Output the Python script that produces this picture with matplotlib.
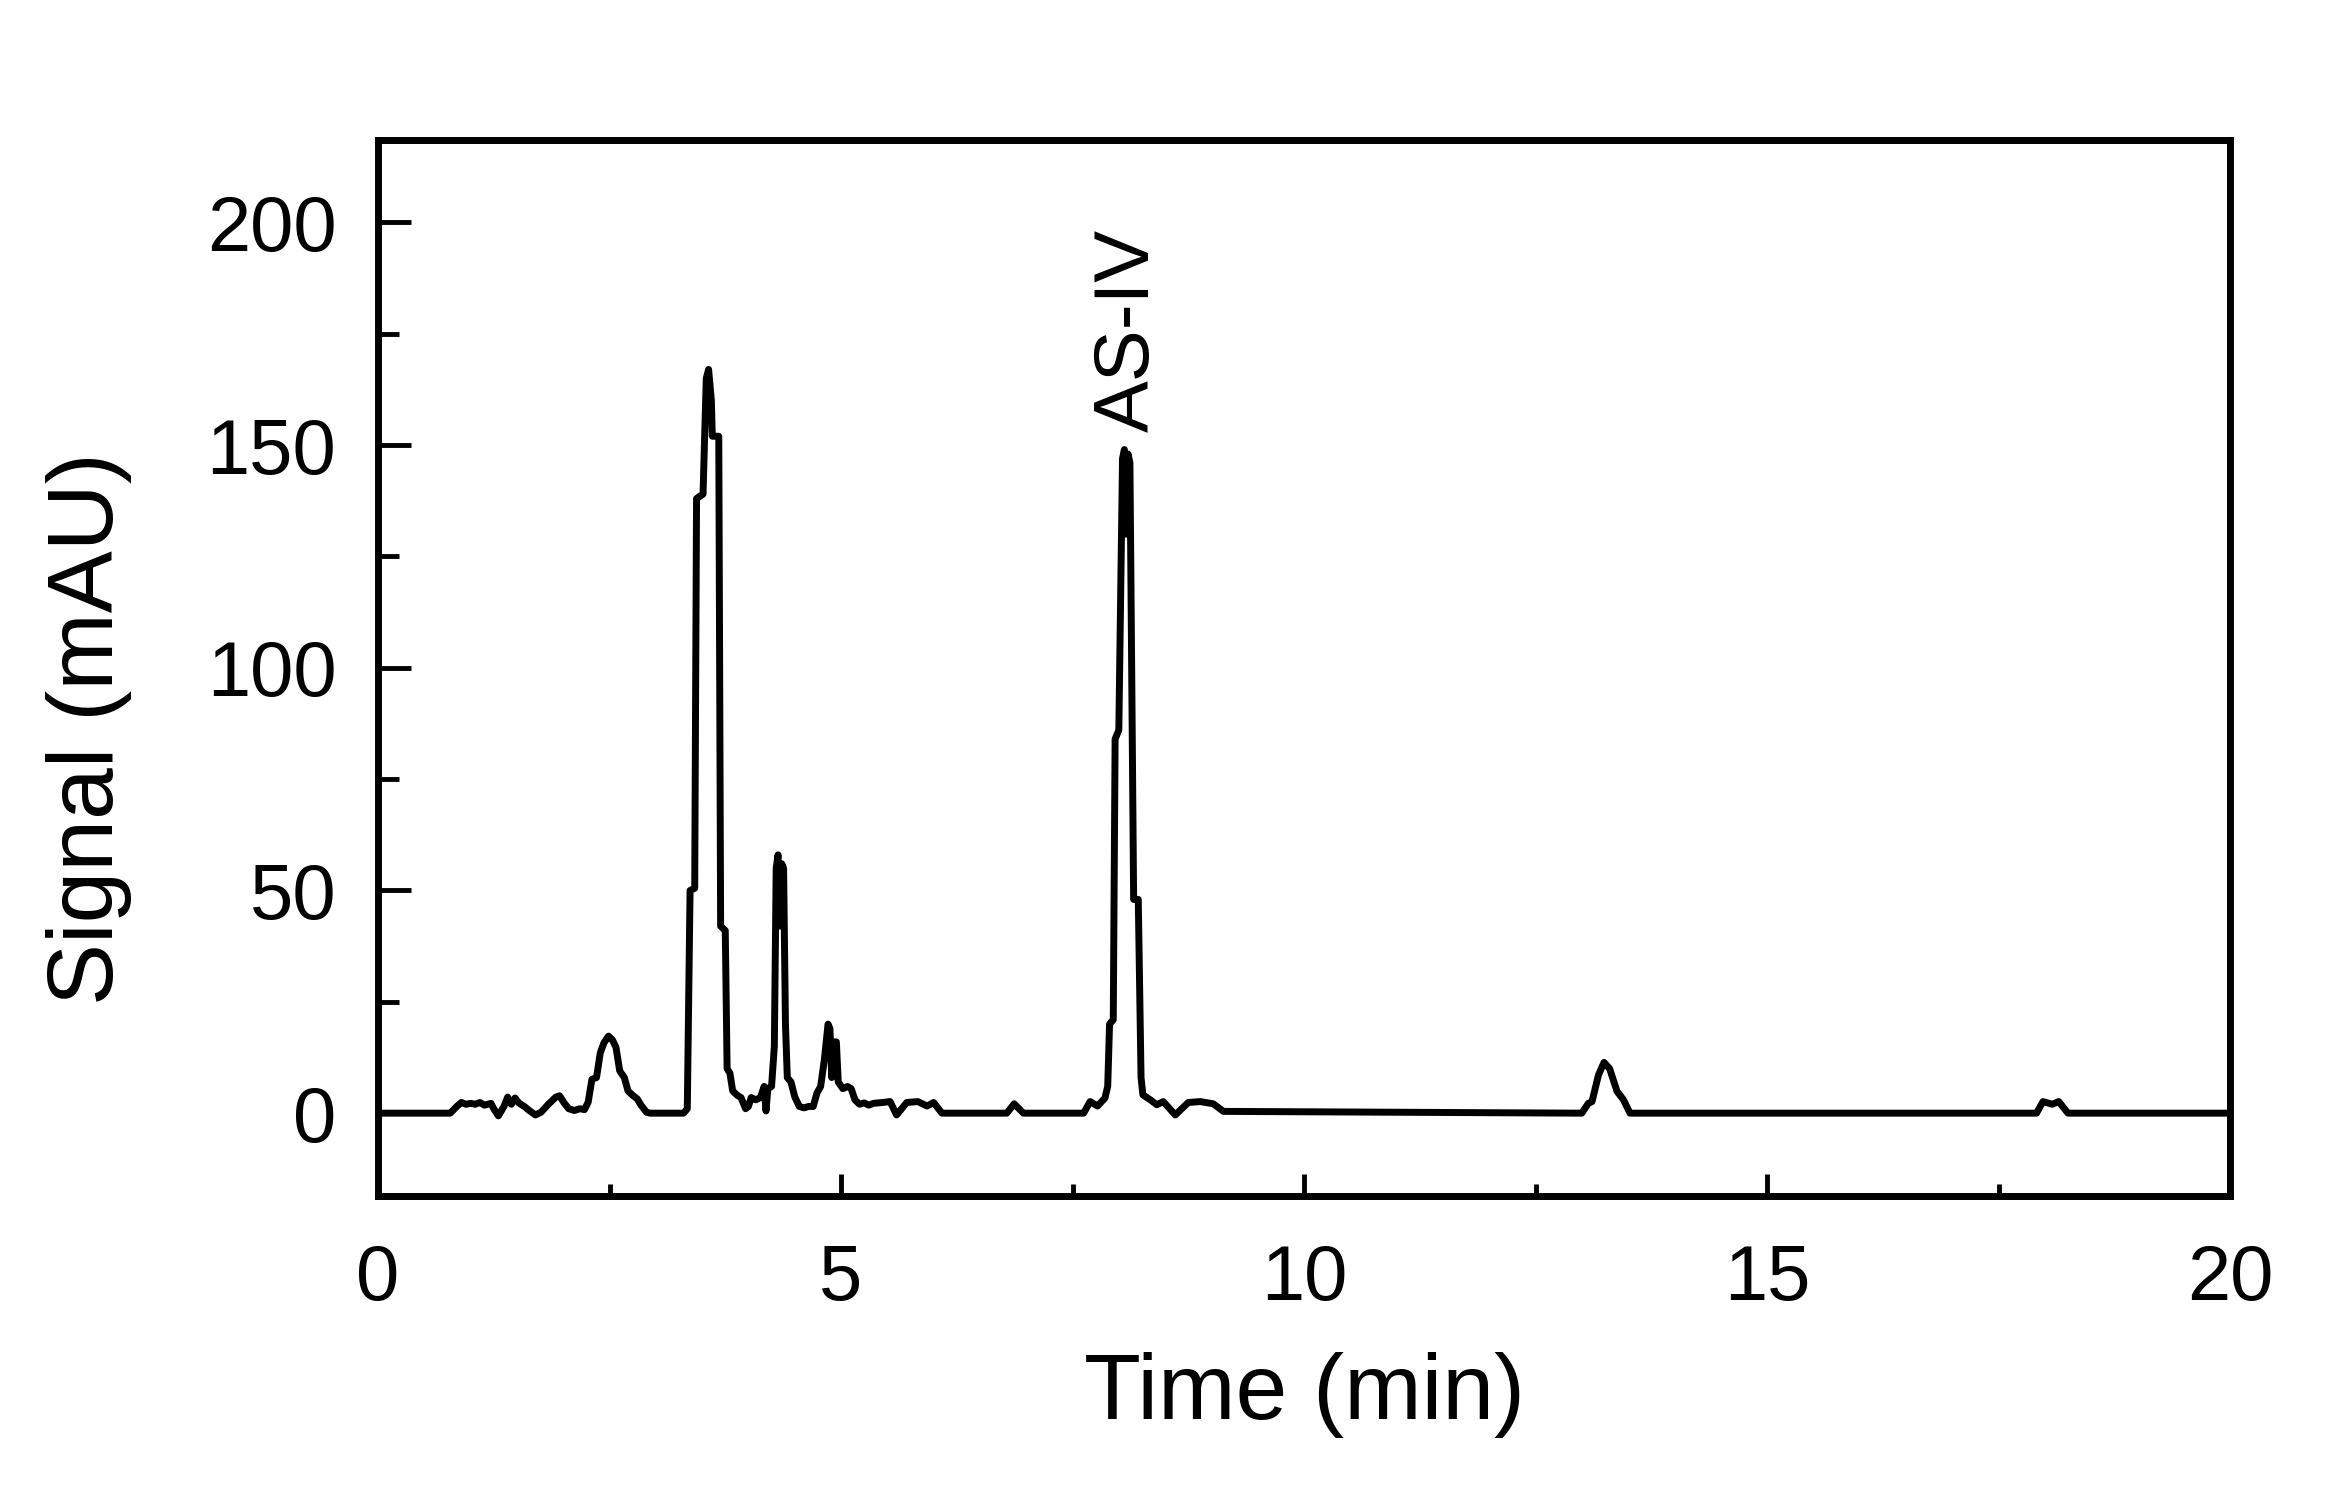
import matplotlib.pyplot as plt
from matplotlib.ticker import MultipleLocator

plt.rcParams['font.family'] = ['Liberation Sans', 'DejaVu Sans']

# chromatogram (time in min, signal in mAU)
time = [0, 0.78, 0.85, 0.90, 0.95, 1.00, 1.05, 1.10, 1.15, 1.22, 1.25, 1.30, 1.36, 1.40,
        1.44, 1.48, 1.52, 1.58, 1.64, 1.70, 1.76, 1.84, 1.92, 1.96, 2.01, 2.06, 2.12,
        2.18, 2.23, 2.27, 2.31, 2.36, 2.40, 2.44, 2.49, 2.53, 2.57, 2.61, 2.66, 2.70,
        2.75, 2.80, 2.84, 2.90, 2.94, 3.30, 3.34,
        3.37, 3.42, 3.44, 3.51, 3.545, 3.57, 3.60, 3.61, 3.68, 3.70, 3.75, 3.77, 3.80,
        3.83, 3.88, 3.92, 3.97, 4.00, 4.03, 4.08, 4.13, 4.17, 4.19, 4.21, 4.25,
        4.28, 4.30, 4.32, 4.34, 4.36, 4.38, 4.40, 4.42, 4.46, 4.50, 4.55, 4.60, 4.65,
        4.70, 4.74, 4.78, 4.82, 4.86, 4.88, 4.90, 4.92, 4.95, 4.97, 5.02, 5.07, 5.11,
        5.15, 5.20, 5.25, 5.30, 5.35, 5.45, 5.53, 5.60, 5.71, 5.83, 5.93, 6.00, 6.09,
        6.79, 6.87, 6.97, 7.62, 7.69, 7.77, 7.85,
        7.88, 7.90, 7.94, 7.96, 8.00, 8.04, 8.06, 8.08, 8.10, 8.12, 8.16, 8.21, 8.24,
        8.26, 8.34, 8.41, 8.48, 8.61, 8.75, 8.88, 9.02, 9.13,
        13.00, 13.07, 13.11, 13.18, 13.24, 13.30, 13.38, 13.45, 13.52,
        17.91, 17.98, 18.08, 18.15, 18.25, 20.0]
signal = [0, 0, 1.5, 2.4, 2.0, 2.2, 2.0, 2.4, 1.8, 2.2, 1.0, -0.6, 1.5, 3.6,
          2.0, 3.4, 2.3, 1.5, 0.5, -0.4, 0.2, 2.0, 3.6, 3.9, 2.3, 1.0, 0.6,
          1.0, 0.8, 2.5, 7.6, 8.0, 13.5, 15.8, 17.3, 16.5, 14.8, 9.5, 8.0, 5.0,
          4.0, 3.2, 1.8, 0.2, 0, 0, 1.0,
          50, 50.5, 138, 139, 165, 167, 160, 152, 152, 42, 41, 10, 9,
          5, 4, 3.5, 1, 1.5, 3.5, 3.0, 3.5, 6, 0.5, 5.5, 6,
          15, 55, 58, 42, 56, 55, 20, 8, 7, 3.7, 1.5, 1.2, 1.5,
          1.5, 4.5, 6, 12, 20, 19, 8, 16, 16, 7, 5.5, 6, 5.5,
          3, 2, 2.3, 1.8, 2.2, 2.4, 2.6, -0.4, 2.4, 2.6, 1.6, 2.4, 0,
          0, 2.1, 0, 0, 2.6, 1.6, 3.4,
          6, 20, 21, 84, 86, 147, 149, 130, 148, 146, 48, 48, 8,
          4.1, 3.0, 1.9, 2.6, -0.4, 2.4, 2.6, 2.1, 0.4,
          0, 2.2, 2.6, 8.6, 11.4, 10, 4.9, 3, 0,
          0, 2.6, 2.0, 2.6, 0, 0]

peak_label = "AS-IV"
peak_time = 8.1
peak_top = 153

fig = plt.figure(figsize=(23.42, 14.98), dpi=100)
ax = fig.add_axes([0.1614, 0.2016, 0.7908, 0.7049])

ax.plot(time, signal, color='black', lw=5, solid_joinstyle='round')
ax.text(peak_time, peak_top, peak_label, rotation=90, ha='center', va='bottom',
        fontsize=56)

ax.set_xlim(0, 20)
ax.set_ylim(-18.6, 218.5)
ax.xaxis.set_major_locator(MultipleLocator(5))
ax.xaxis.set_minor_locator(MultipleLocator(2.5))
ax.yaxis.set_major_locator(MultipleLocator(50))
ax.yaxis.set_minor_locator(MultipleLocator(25))

ax.tick_params(axis='both', which='both', direction='in', top=False, right=False,
               width=3.5, labelsize=56)
ax.tick_params(axis='x', which='major', length=16, pad=34)
ax.tick_params(axis='x', which='minor', length=9)
ax.tick_params(axis='y', which='major', length=24, pad=30)
ax.tick_params(axis='y', which='minor', length=15)
for s in ax.spines.values():
    s.set_linewidth(5)

ax.set_xlabel("Time (min)", fontsize=67, labelpad=26)
ax.set_ylabel("Signal (mAU)", fontsize=67)
ax.yaxis.set_label_coords(-0.133, 0.443)

fig.savefig("out.png", dpi=100)
